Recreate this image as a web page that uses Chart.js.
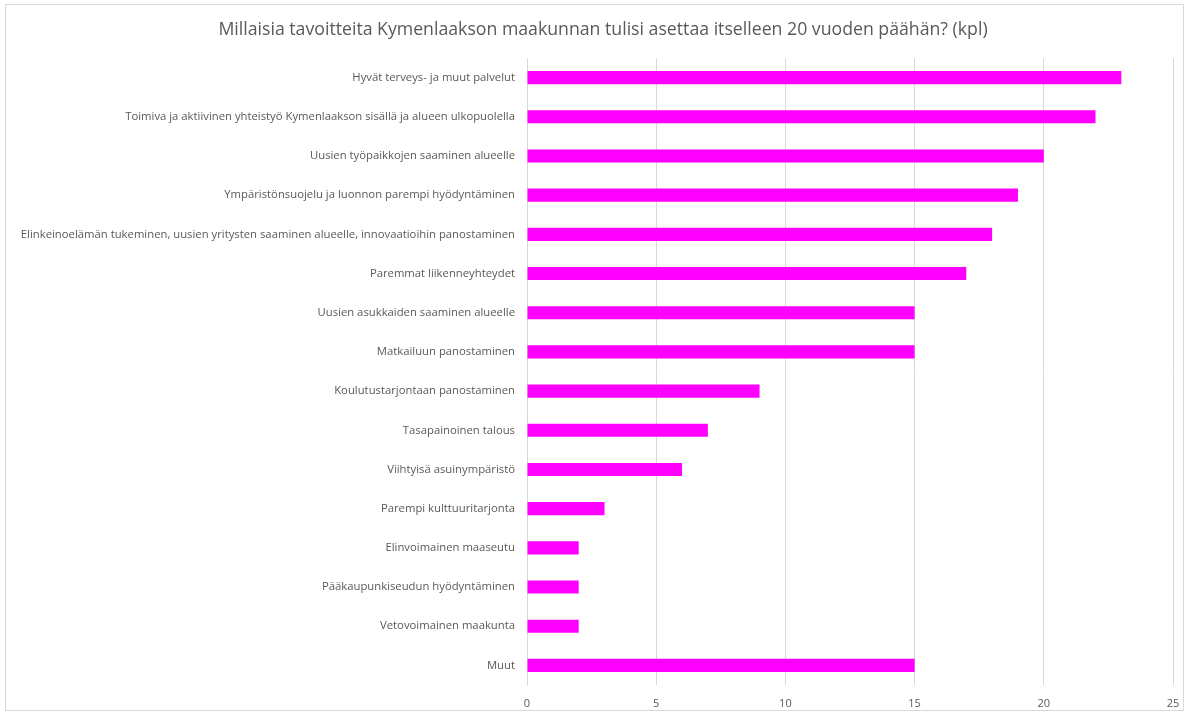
<!DOCTYPE html>
<html>
<head>
<meta charset="utf-8">
<script src="https://cdn.jsdelivr.net/npm/chart.js@4"></script>
<style>
  html, body { margin: 0; padding: 0; background: #fff; }
  #wrap { width: 1189px; height: 715px; position: relative; }
</style>
</head>
<body>
<div id="wrap"><canvas id="goalsChart" width="1189" height="715"></canvas></div>
<script>
const chartTitle = 'Millaisia tavoitteita Kymenlaakson maakunnan tulisi asettaa itselleen 20 vuoden päähän? (kpl)';

const categories = [
    'Hyvät terveys- ja muut palvelut',
    'Toimiva ja aktiivinen yhteistyö Kymenlaakson sisällä ja alueen ulkopuolella',
    'Uusien työpaikkojen saaminen alueelle',
    'Ympäristönsuojelu ja luonnon parempi hyödyntäminen',
    'Elinkeinoelämän tukeminen, uusien yritysten saaminen alueelle, innovaatioihin panostaminen',
    'Paremmat liikenneyhteydet',
    'Uusien asukkaiden saaminen alueelle',
    'Matkailuun panostaminen',
    'Koulutustarjontaan panostaminen',
    'Tasapainoinen talous',
    'Viihtyisä asuinympäristö',
    'Parempi kulttuuritarjonta',
    'Elinvoimainen maaseutu',
    'Pääkaupunkiseudun hyödyntäminen',
    'Vetovoimainen maakunta',
    'Muut'
];

const counts = [23, 22, 20, 19, 18, 17, 15, 15, 9, 7, 6, 3, 2, 2, 2, 15];

const xTicks = [0, 5, 10, 15, 20, 25];

const textColor = '#595959';
const fontFamily = '"Open Sans", "Liberation Sans", sans-serif';

// frame + title drawn by hand, the title sits a bit right of centre in the original
const framePlugin = {
    id: 'frame',
    beforeDraw(chart) {
        const c = chart.ctx;
        c.save();
        c.strokeStyle = '#d9d9d9';
        c.lineWidth = 1;
        c.strokeRect(5.5, 4.5, chart.width - 11, chart.height - 9);
        c.fillStyle = textColor;
        c.font = '17.7px ' + fontFamily;
        c.textAlign = 'center';
        c.textBaseline = 'middle';
        c.fillText(chartTitle, 603, 30);
        c.restore();
    }
};

new Chart(document.getElementById('goalsChart'), {
    type: 'bar',
    data: {
        labels: categories,
        datasets: [{
            data: counts,
            backgroundColor: '#ff00ff',
            borderWidth: 0,
            barPercentage: 0.67,
            categoryPercentage: 0.5
        }]
    },
    options: {
        indexAxis: 'y',
        responsive: false,
        animation: false,
        layout: { padding: { top: 58, right: 10, bottom: 0, left: 10 } },
        plugins: {
            legend: { display: false },
            tooltip: { enabled: false },
            title: { display: false }
        },
        scales: {
            x: {
                min: 0,
                max: 25,
                afterBuildTicks(scale) {
                    scale.ticks = xTicks.map(v => ({ value: v }));
                },
                afterFit(scale) {
                    scale.height = 30;
                    scale.paddingRight = 16;
                    scale.paddingLeft = 0;
                },
                grid: { color: '#d9d9d9', drawTicks: false },
                border: { display: false },
                ticks: {
                    color: textColor,
                    padding: 12,
                    font: { family: fontFamily, size: 11 }
                }
            },
            y: {
                afterFit(scale) { scale.width = 517; },
                grid: { display: false, drawTicks: false },
                border: { display: true, color: '#d9d9d9' },
                ticks: {
                    color: textColor,
                    padding: 12,
                    autoSkip: false,
                    font: { family: fontFamily, size: 11.3 }
                }
            }
        }
    },
    plugins: [framePlugin]
});
</script>
</body>
</html>
